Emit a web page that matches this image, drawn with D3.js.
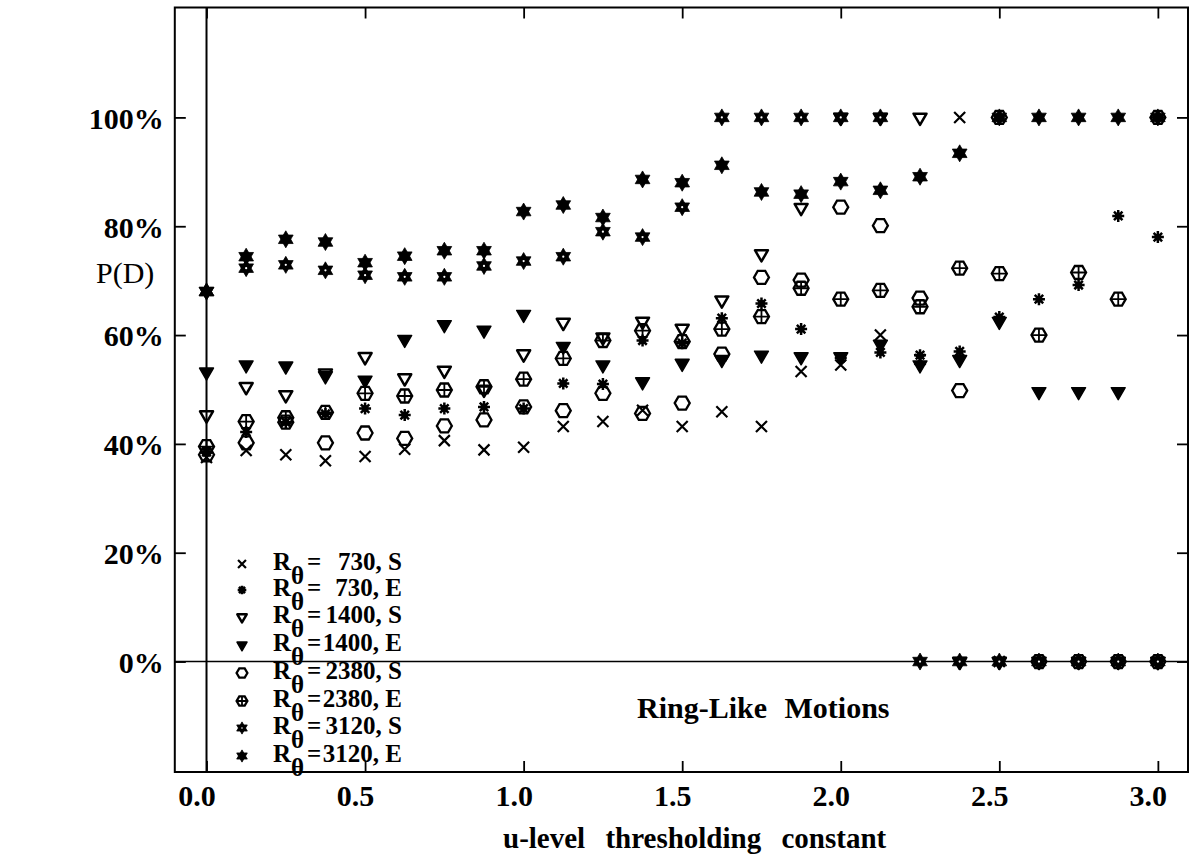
<!DOCTYPE html>
<html>
<head>
<meta charset="utf-8">
<script src="https://cdn.jsdelivr.net/npm/d3@7"></script>
<style>
  html, body { margin: 0; padding: 0; background: #fff; }
  svg { display: block; }
  text { font-family: "Liberation Serif", "Times New Roman", serif; fill: #000; }
</style>
</head>
<body>
<svg id="chart" width="1194" height="864"></svg>
<script>
// ---------- data ----------
const xValues = [0, 0.125, 0.25, 0.375, 0.5, 0.625, 0.75, 0.875, 1.0, 1.125, 1.25, 1.375, 1.5,
                 1.625, 1.75, 1.875, 2.0, 2.125, 2.25, 2.375, 2.5, 2.625, 2.75, 2.875, 3.0];

const r730S  = [37.5, 38.8, 38.0, 36.9, 37.7, 39.0, 40.6, 38.9, 39.4, 43.2, 44.1, 46.2, 43.2,
                45.9, 43.2, 53.3, 54.5, 60.0, 55.5, 100, 0, 0, 0, 0, 0];
const r730E  = [38.5, 42.2, 44.0, 45.5, 46.5, 45.3, 46.5, 46.8, 46.5, 51.1, 51.0, 59.0, 58.5,
                63.1, 65.8, 61.1, 55.8, 56.8, 56.3, 57.0, 63.3, 66.6, 69.2, 81.9, 78.0];
const r1400S = [45.3, 50.5, 49.0, 53.0, 56.0, 52.1, 53.5, 50.0, 56.5, 62.3, 59.6, 62.5, 61.2,
                66.4, 74.9, 83.4, 100, 100, 100, 0, 0, 0, 0, 0, 0];
const r1400E = [53.2, 54.5, 54.3, 52.5, 51.7, 59.2, 61.9, 60.9, 63.8, 57.9, 54.5, 51.4, 54.8,
                55.5, 56.3, 56.0, 56.0, 58.3, 54.5, 55.5, 62.5, 49.6, 49.6, 49.6, 0];
const r2380S = [38.0, 40.2, 44.0, 40.2, 42.0, 41.0, 43.3, 44.4, 46.8, 46.1, 49.3, 45.6, 47.5,
                56.5, 70.6, 70.1, 83.5, 80.1, 66.8, 49.8, 100, 0, 0, 0, 0];
const r2380E = [39.5, 44.1, 44.8, 45.8, 49.3, 48.8, 49.9, 50.5, 51.9, 55.7, 59.0, 60.8, 58.8,
                61.1, 63.4, 68.6, 66.6, 68.2, 65.2, 72.3, 71.3, 60.0, 71.5, 66.6, 100];
const r3120S = [68.0, 72.3, 72.9, 71.9, 71.0, 70.7, 70.7, 72.7, 73.6, 74.4, 79.0, 78.0, 83.5,
                100, 100, 100, 100, 100, 0, 0, 0, 0, 0, 0, 0];
const r3120E = [68.0, 74.4, 77.6, 77.1, 73.3, 74.5, 75.5, 75.5, 82.7, 83.9, 81.6, 88.6, 88.0,
                91.2, 86.3, 85.9, 88.2, 86.6, 89.1, 93.4, 100, 100, 100, 100, 100];

const seriesNames  = ["730, S", "730, E", "1400, S", "1400, E", "2380, S", "2380, E", "3120, S", "3120, E"];
const seriesValues = [r730S, r730E, r1400S, r1400E, r2380S, r2380E, r3120S, r3120E];
const seriesMarks  = ["cross", "asterisk", "triOpen", "triFilled", "hexOpen", "hexCross", "starHole", "starFilled"];

const xTickValues = [0, 0.5, 1.0, 1.5, 2.0, 2.5, 3.0];
const yTickValues = [0, 20, 40, 60, 80, 100];

// ---------- scales ----------
const svg = d3.select("#chart");
const x = d3.scaleLinear().domain([-0.1, 3.095]).range([174.8, 1188]);
const y = d3.scaleLinear().domain([-20.3, 120.2]).range([772, 7.5]);

const [x0, x1] = x.range();
const [yb, yt] = y.range();

// ---------- markers ----------
function hexPts(r) {
  const p = [];
  for (let i = 0; i < 6; i++) {
    const a = Math.PI / 3 * i;
    p.push([r * Math.cos(a), r * Math.sin(a)]);
  }
  return p;
}
function triPts(r, up) {
  if (up) return [[0, -r], [r * 0.866, r * 0.5], [-r * 0.866, r * 0.5]];
  return [[-r * 0.866, -r * 0.5], [r * 0.866, -r * 0.5], [0, r]];
}
function poly(p) { return "M" + p.map(q => q[0].toFixed(2) + "," + q[1].toFixed(2)).join("L") + "Z"; }

function drawMarker(g, type, k) {
  if (type === "cross") {
    const s = 5.5 * k;
    g.append("path").attr("d", `M${-s},${-s}L${s},${s}M${-s},${s}L${s},${-s}`)
      .attr("stroke", "#000").attr("stroke-width", 2.2).attr("fill", "none");
  } else if (type === "asterisk") {
    const s = 6 * k;
    let d = "";
    for (let i = 0; i < 4; i++) {
      const a = Math.PI / 4 * i;
      d += `M${(-s * Math.cos(a)).toFixed(2)},${(-s * Math.sin(a)).toFixed(2)}L${(s * Math.cos(a)).toFixed(2)},${(s * Math.sin(a)).toFixed(2)}`;
    }
    g.append("path").attr("d", d).attr("stroke", "#000").attr("stroke-width", 2.5).attr("fill", "none");
    g.append("circle").attr("r", 3.4 * k).attr("fill", "#000");
  } else if (type === "triOpen") {
    g.append("path").attr("d", poly(triPts(7.5 * k, false)))
      .attr("stroke", "#000").attr("stroke-width", 2.5).attr("fill", "none").attr("stroke-linejoin", "round");
  } else if (type === "triFilled") {
    g.append("path").attr("d", poly(triPts(8 * k, false)))
      .attr("stroke", "#000").attr("stroke-width", 1.5).attr("fill", "#000").attr("stroke-linejoin", "round");
  } else if (type === "hexOpen") {
    g.append("path").attr("d", poly(hexPts(7.5 * k)))
      .attr("stroke", "#000").attr("stroke-width", 2.3).attr("fill", "none");
  } else if (type === "hexCross") {
    const r = 7.5 * k;
    g.append("path").attr("d", poly(hexPts(r)))
      .attr("stroke", "#000").attr("stroke-width", 2.3).attr("fill", "none");
    g.append("path").attr("d", `M${-r},0L${r},0M0,${-r * 0.87}L0,${r * 0.87}`)
      .attr("stroke", "#000").attr("stroke-width", 1.8);
  } else if (type === "starHole" || type === "starFilled") {
    const r = 8.5 * k;
    g.append("path").attr("d", poly(triPts(r, true)) + poly(triPts(r, false)))
      .attr("fill", "#000").attr("fill-rule", "nonzero").attr("stroke", "#000").attr("stroke-width", 0.8);
    if (type === "starHole") g.append("circle").attr("r", 1.1 * k).attr("fill", "#fff");
  }
}

// ---------- frame, reference lines ----------
svg.append("rect").attr("x", x0).attr("y", yt).attr("width", x1 - x0).attr("height", yb - yt)
  .attr("fill", "none").attr("stroke", "#000").attr("stroke-width", 2);
svg.append("line").attr("x1", x(0)).attr("x2", x(0)).attr("y1", yt).attr("y2", yb)
  .attr("stroke", "#000").attr("stroke-width", 2);
svg.append("line").attr("x1", x0).attr("x2", x1).attr("y1", y(0)).attr("y2", y(0))
  .attr("stroke", "#000").attr("stroke-width", 1.6);

// ---------- axes ----------
const fmtX = d3.format(".1f");
const axB = svg.append("g").attr("transform", `translate(0,${yb})`)
  .call(d3.axisBottom(x).tickValues(xTickValues).tickSizeInner(-11).tickSizeOuter(0).tickFormat(fmtX));
const axT = svg.append("g").attr("transform", `translate(0,${yt})`)
  .call(d3.axisTop(x).tickValues(xTickValues).tickSizeInner(-11).tickSizeOuter(0).tickFormat(""));
const axL = svg.append("g").attr("transform", `translate(${x0},0)`)
  .call(d3.axisLeft(y).tickValues(yTickValues).tickSizeInner(-11).tickSizeOuter(0).tickPadding(11).tickFormat(d => d + "%"));
const axR = svg.append("g").attr("transform", `translate(${x1},0)`)
  .call(d3.axisRight(y).tickValues(yTickValues).tickSizeInner(-11).tickSizeOuter(0).tickFormat(""));

[axB, axT, axL, axR].forEach(a => {
  a.select(".domain").remove();
  a.selectAll(".tick line").attr("stroke", "#000").attr("stroke-width", 1.8);
});
axB.selectAll(".tick text")
  .attr("y", 34).attr("dy", 0).attr("dx", -10)
  .style("font-size", "30px").style("font-weight", "bold")
  .style("font-family", "'Liberation Serif', serif").attr("fill", "#000");
axL.selectAll(".tick text")
  .attr("dy", "0.36em")
  .style("font-size", "30px").style("font-weight", "bold")
  .style("font-family", "'Liberation Serif', serif").attr("fill", "#000");

// ---------- data points ----------
seriesValues.forEach((vals, si) => {
  const g = svg.append("g").attr("class", "series s" + si);
  vals.forEach((v, i) => {
    if (v === null || v === undefined) return;
    const m = g.append("g").attr("transform", `translate(${x(xValues[i])},${y(v)})`);
    drawMarker(m, seriesMarks[si], 1);
  });
});

// ---------- titles ----------
svg.append("text").attr("x", 96).attr("y", 283)
  .style("font-size", "30px").text("P(D)");

svg.append("text").attr("x", 503).attr("y", 848)
  .style("font-size", "29px").style("font-weight", "bold").style("word-spacing", "13px")
  .text("u-level thresholding constant");

svg.append("text").attr("x", 637).attr("y", 718)
  .style("font-size", "30px").style("font-weight", "bold").style("word-spacing", "10px")
  .text("Ring-Like Motions");

// ---------- legend ----------
const legendRows = [564, 590, 617, 645, 673, 701, 728, 756];
seriesNames.forEach((name, i) => {
  const gy = legendRows[i];
  const m = svg.append("g").attr("transform", `translate(242,${gy})`);
  drawMarker(m, seriesMarks[i], 0.72);
  const t = svg.append("text").attr("y", gy + 6)
    .style("font-size", "25px").style("font-weight", "bold");
  t.append("tspan").attr("x", 273).text("R");
  t.append("tspan").attr("x", 291).attr("dy", 14).text("θ");
  t.append("tspan").attr("x", 307).attr("dy", -14).text("=");
  svg.append("text").attr("x", 402).attr("y", gy + 6).attr("text-anchor", "end")
    .style("font-size", "25px").style("font-weight", "bold").text(name);
});
</script>
</body>
</html>
